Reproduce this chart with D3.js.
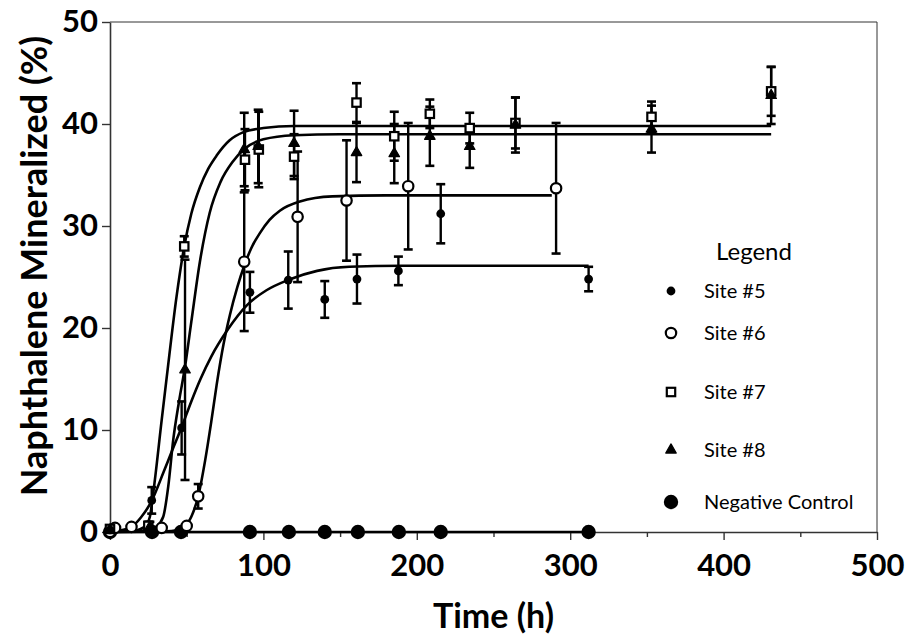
<!DOCTYPE html>
<html>
<head>
<meta charset="utf-8">
<script src="https://cdn.jsdelivr.net/npm/d3@7"></script>
<style>
  html, body { margin: 0; padding: 0; background: #fff; }
  svg { display: block; }
</style>
</head>
<body>
<svg id="chart" width="909" height="637"></svg>
<script>
// Axis ticks
const xTicks = [0, 100, 200, 300, 400, 500];
const xMinorTicks = [50, 150, 250, 350, 450];
const yTicks = [0, 10, 20, 30, 40, 50];

// Measured mineralization (mean, sd) per site
const site5Time = [0, 27.2, 46.7, 91.2, 116.2, 140, 161, 188, 215.6, 312];
const site5Value = [0.2, 3.1, 10.2, 23.5, 24.7, 22.8, 24.8, 25.6, 31.2, 24.8];
const site5Err = [0, 1.3, 2.6, 2.0, 2.8, 1.8, 2.4, 1.4, 2.9, 1.2];

const site6Time = [0, 3.3, 14, 33.7, 50, 57.5, 87.5, 122.3, 154.2, 194.4, 290.8];
const site6Value = [0, 0.4, 0.5, 0.4, 0.6, 3.5, 26.5, 30.9, 32.5, 33.9, 33.7];
const site6Err = [0, 0, 0, 0, 0, 1.2, 6.8, 6.4, 5.9, 6.2, 6.4];

const site7Time = [0, 25, 48.4, 88, 97, 120, 160.7, 185.3, 208.5, 234.5, 264.3, 353, 431];
const site7Value = [0.3, 0.6, 28.0, 36.5, 37.5, 36.8, 42.1, 38.8, 41.0, 39.6, 40.1, 40.7, 43.2];
const site7Err = [0, 0.4, 1.0, 3.0, 3.7, 2.2, 1.9, 2.4, 1.4, 1.5, 2.5, 1.5, 2.4];

const site8Time = [0, 26, 48.9, 87.5, 96.6, 120, 160.7, 185.3, 208.5, 234.5, 264.3, 353, 431];
const site8Value = [0.2, 0.5, 15.9, 37.5, 37.8, 38.1, 37.2, 37.1, 38.8, 37.8, 39.9, 39.5, 42.8];
const site8Err = [0, 0.5, 10.8, 3.6, 3.6, 3.2, 2.9, 2.9, 2.9, 2.1, 2.7, 2.3, 2.8];

const controlTime = [0, 27.4, 46.3, 91.2, 116.6, 140, 161.6, 188.3, 215.6, 312];
const controlValue = [0, 0, 0, 0, 0, 0, 0, 0, 0, 0];

// Fitted sigmoidal curves, sampled along each fit
const fit5Time = [0, 5, 14, 20, 27, 35, 40, 47, 53, 59, 66, 77, 89, 102, 116, 135, 156, 190, 250, 312];
const fit5Value = [0, 0.1, 0.5, 1.4, 3.0, 5.9, 7.8, 10.4, 12.8, 15.0, 17.2, 19.9, 22.2, 23.7, 24.7, 25.6, 26.0, 26.1, 26.1, 26.1];

const fit6Time = [0, 40, 48, 53, 57.5, 62, 66, 69.5, 74, 78.2, 83, 87.5, 92, 97.7, 104, 110.7, 123.8, 145, 180, 288];
const fit6Value = [0, 0.1, 0.5, 1.5, 3.5, 7.0, 10.8, 14.4, 18.4, 21.3, 24.0, 26.1, 27.8, 29.3, 30.6, 31.5, 32.4, 32.9, 33.0, 33.0];

const fit7Time = [0, 15, 20, 24, 26, 29, 33.7, 37, 43.4, 48.4, 53, 58.6, 64, 69.5, 78, 87, 100, 120, 431];
const fit7Value = [0, 0.1, 0.3, 0.8, 1.5, 4.8, 11.0, 15.2, 23.1, 28.0, 31.2, 33.8, 35.6, 36.9, 38.4, 39.2, 39.6, 39.8, 39.8];

const fit8Time = [0, 25, 30, 34.7, 38, 41.2, 45, 48.9, 53, 58.6, 65, 72, 80, 88, 100, 120, 150, 431];
const fit8Value = [0, 0.2, 0.5, 1.5, 4.5, 9.0, 12.8, 16.2, 20.6, 26.5, 31.3, 34.3, 36.3, 37.6, 38.5, 38.9, 39.0, 39.0];

const legendLabels = ["Site #5", "Site #6", "Site #7", "Site #8", "Negative Control"];

const svg = d3.select("#chart");
const x = d3.scaleLinear().domain([0, 500]).range([110, 877]);
const y = d3.scaleLinear().domain([0, 50]).range([532, 22]);

const zip = (t, v, e) => t.map((d, i) => ({ t: d, v: v[i], e: e ? e[i] : 0 }));

// Frame (top and right)
svg.append("line").attr("x1", x(0)).attr("x2", x(500)).attr("y1", y(50)).attr("y2", y(50))
  .attr("stroke", "#333").attr("stroke-width", 1);
svg.append("line").attr("x1", x(500)).attr("x2", x(500)).attr("y1", y(50)).attr("y2", y(0))
  .attr("stroke", "#333").attr("stroke-width", 1);

// Axes
const tickFont = "Lato, 'Liberation Sans', sans-serif";
const xAxis = svg.append("g").attr("transform", `translate(0,${y(0)})`)
  .call(d3.axisBottom(x).tickValues(xTicks).tickSize(8).tickSizeOuter(0).tickPadding(14));
const xMinor = svg.append("g").attr("transform", `translate(0,${y(0)})`)
  .call(d3.axisBottom(x).tickValues(xMinorTicks).tickSize(5).tickFormat(""));
xMinor.select(".domain").remove();
const yAxis = svg.append("g").attr("transform", `translate(${x(0)},0)`)
  .call(d3.axisLeft(y).tickValues(yTicks).tickSize(8).tickSizeOuter(0).tickPadding(4));

[xAxis, yAxis, xMinor].forEach(g => {
  g.selectAll(".domain").attr("stroke", "#333").attr("stroke-width", 1.6);
  g.selectAll(".tick line").attr("stroke", "#333").attr("stroke-width", 1.4);
});
[xAxis, yAxis].forEach(g => {
  g.selectAll(".tick text").attr("fill", "#000").attr("font-family", tickFont)
    .attr("font-weight", 700).attr("font-size", 31);
});

// Axis titles
svg.append("text").attr("x", (x(0) + x(500)) / 2).attr("y", 628)
  .attr("text-anchor", "middle").attr("font-family", tickFont).attr("font-weight", 700)
  .attr("font-size", 34).text("Time (h)");
svg.append("text").attr("transform", `translate(47,${(32 + 500) / 2}) rotate(-90)`)
  .attr("text-anchor", "middle").attr("font-family", tickFont).attr("font-weight", 700)
  .attr("font-size", 36).text("Naphthalene Mineralized (%)");

// Fit curves
const line = d3.line().x(d => x(d.t)).y(d => y(d.v)).curve(d3.curveMonotoneX);
const plot = svg.append("g");
plot.append("path").datum(zip(controlTime, controlValue)).attr("d", line)
  .attr("fill", "none").attr("stroke", "#000").attr("stroke-width", 2.6);
[[fit5Time, fit5Value], [fit6Time, fit6Value], [fit7Time, fit7Value], [fit8Time, fit8Value]]
  .forEach(([t, v]) => {
    plot.append("path").datum(zip(t, v)).attr("d", line)
      .attr("fill", "none").attr("stroke", "#000").attr("stroke-width", 2.6);
  });

// Error bars
function errorBars(data) {
  const g = plot.append("g").attr("stroke", "#000").attr("stroke-width", 2.4);
  data.filter(d => d.e > 0).forEach(d => {
    const cx = x(d.t), y1 = y(d.v + d.e), y2 = y(d.v - d.e);
    g.append("line").attr("x1", cx).attr("x2", cx).attr("y1", y1).attr("y2", y2);
    g.append("line").attr("x1", cx - 4.5).attr("x2", cx + 4.5).attr("y1", y1).attr("y2", y1).attr("stroke-width", 2.6);
    g.append("line").attr("x1", cx - 4.5).attr("x2", cx + 4.5).attr("y1", y2).attr("y2", y2).attr("stroke-width", 2.6);
  });
}
const s5 = zip(site5Time, site5Value, site5Err);
const s6 = zip(site6Time, site6Value, site6Err);
const s7 = zip(site7Time, site7Value, site7Err);
const s8 = zip(site8Time, site8Value, site8Err);
const sc = zip(controlTime, controlValue);
[s5, s6, s7, s8].forEach(errorBars);

// Marker drawers
const markers = {
  site5: (g, cx, cy) => g.append("circle").attr("cx", cx).attr("cy", cy).attr("r", 4.4).attr("fill", "#000"),
  site6: (g, cx, cy) => g.append("circle").attr("cx", cx).attr("cy", cy).attr("r", 5.2)
    .attr("fill", "#fff").attr("stroke", "#000").attr("stroke-width", 2.2),
  site7: (g, cx, cy) => g.append("rect").attr("x", cx - 4.2).attr("y", cy - 4.2).attr("width", 8.4).attr("height", 8.4)
    .attr("fill", "#fff").attr("stroke", "#000").attr("stroke-width", 2.2),
  site8: (g, cx, cy) => g.append("path").attr("transform", `translate(${cx},${cy})`)
    .attr("d", d3.symbol().type(d3.symbolTriangle).size(48)()).attr("fill", "#000")
    .attr("stroke", "#000").attr("stroke-width", 1.2).attr("stroke-linejoin", "round"),
  control: (g, cx, cy) => g.append("circle").attr("cx", cx).attr("cy", cy).attr("r", 7.2).attr("fill", "#000")
};

const mg = plot.append("g");
sc.forEach(d => markers.control(mg, x(d.t), y(d.v)));
s6.forEach(d => markers.site6(mg, x(d.t), y(d.v)));
s7.forEach(d => markers.site7(mg, x(d.t), y(d.v)));
s5.forEach(d => markers.site5(mg, x(d.t), y(d.v)));
s8.forEach(d => markers.site8(mg, x(d.t), y(d.v)));

// Legend
const legend = svg.append("g");
legend.append("text").attr("x", 754).attr("y", 260).attr("text-anchor", "middle")
  .attr("font-family", tickFont).attr("font-size", 24).attr("fill", "#000").text("Legend");
const legendY = [291, 333, 392, 450, 502];
const legendKeys = ["site5", "site6", "site7", "site8", "control"];
legendLabels.forEach((label, i) => {
  markers[legendKeys[i]](legend, 671, legendY[i]);
  legend.append("text").attr("x", 704).attr("y", legendY[i]).attr("dy", "0.35em")
    .attr("font-family", tickFont).attr("font-size", 20).attr("fill", "#000").text(label);
});
</script>
</body>
</html>
